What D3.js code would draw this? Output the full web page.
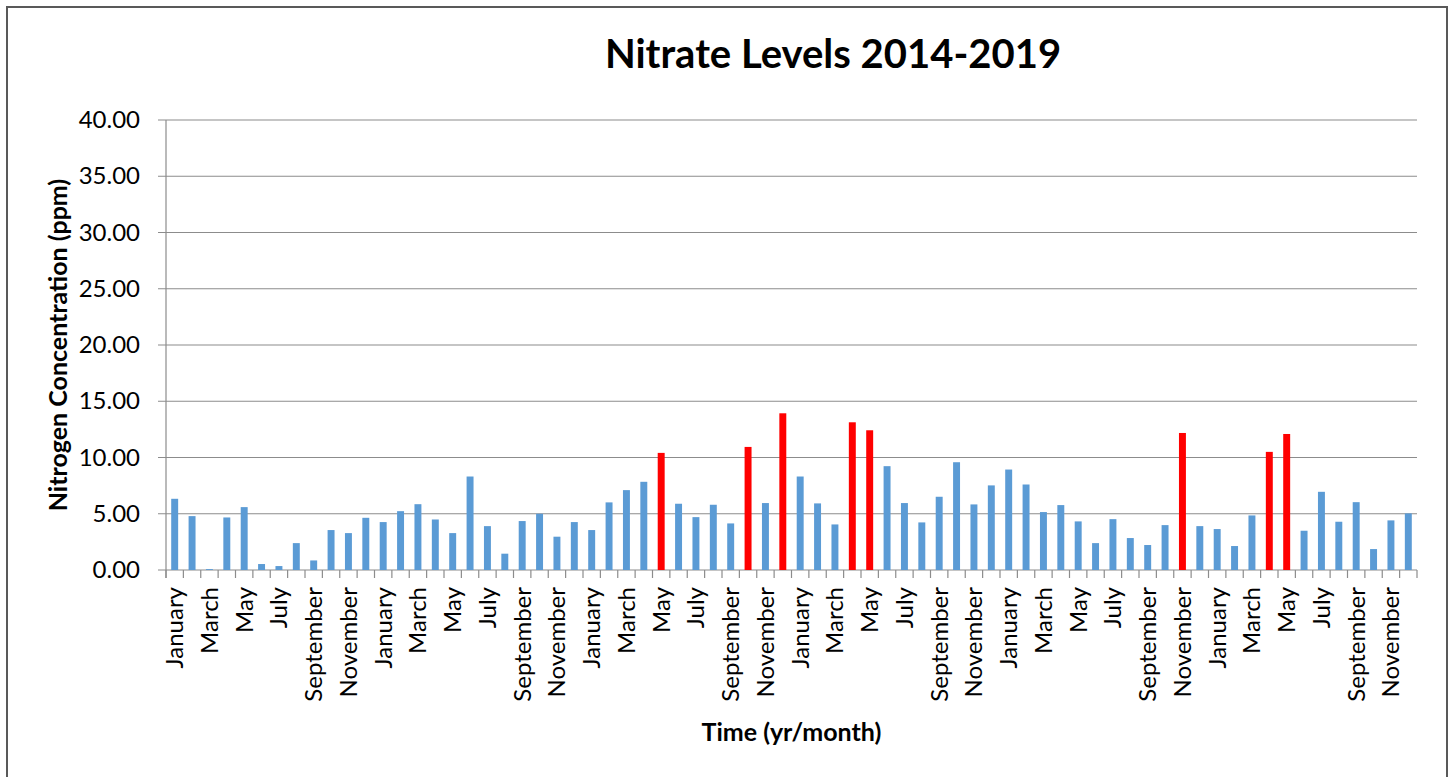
<!DOCTYPE html>
<html>
<head>
<meta charset="utf-8">
<script src="https://cdn.jsdelivr.net/npm/d3@7"></script>
<style>
  body { margin: 0; background: #fff; }
  text { font-family: Lato, "Open Sans", sans-serif; fill: #000; }
</style>
</head>
<body>
<script>
// monthly nitrate readings, Jan 2014 .. Dec 2019
var years = [2014, 2015, 2016, 2017, 2018, 2019];
var monthNames = ["January", "February", "March", "April", "May", "June",
    "July", "August", "September", "October", "November", "December"];
var nitrate = [
    6.33, 4.79, 0.08, 4.67, 5.59, 0.53, 0.35, 2.39, 0.85, 3.55, 3.28, 4.64,
    4.26, 5.23, 5.85, 4.49, 3.28, 8.31, 3.90, 1.45, 4.35, 5.00, 2.96, 4.26,
    3.55, 6.01, 7.10, 7.84, 10.41, 5.89, 4.70, 5.80, 4.14, 10.94, 5.95, 13.93,
    8.31, 5.92, 4.05, 13.13, 12.42, 9.23, 5.95, 4.23, 6.51, 9.58, 5.83, 7.52,
    8.93, 7.60, 5.15, 5.77, 4.32, 2.39, 4.52, 2.84, 2.22, 3.99, 12.18, 3.90,
    3.64, 2.13, 4.85, 10.50, 12.09, 3.49, 6.95, 4.29, 6.03, 1.86, 4.41, 5.03
];
var yTicks = [0, 5, 10, 15, 20, 25, 30, 35, 40];
var limit = 10; // readings above this are flagged red

var data = [];
years.forEach(function(yr, yi) {
    monthNames.forEach(function(m, mi) {
        data.push({key: yr + "-" + (mi + 1), month: m, idx: yi * 12 + mi, value: nitrate[yi * 12 + mi]});
    });
});

var W = 1453, H = 777;
var margin = {top: 120, right: 36, bottom: 207, left: 166};
var width = W - margin.left - margin.right, height = H - margin.top - margin.bottom;

var root = d3.select("body").append("svg").attr("width", W).attr("height", H);

root.append("rect")
    .attr("x", 7).attr("y", 7)
    .attr("width", 1440).attr("height", 790)
    .attr("fill", "none").attr("stroke", "#595959").attr("stroke-width", 2);

var svg = root.append("g").attr("transform", "translate(" + margin.left + "," + margin.top + ")");

var x = d3.scaleBand().domain(data.map(function(d) { return d.key; })).range([0, width]).paddingInner(0.6).paddingOuter(0.3);
var y = d3.scaleLinear().domain([0, 40]).range([height, 0]);

// gridlines
svg.append("g")
    .selectAll("line").data(yTicks).enter().append("line")
    .attr("x1", -8).attr("x2", width)
    .attr("y1", function(d) { return y(d); }).attr("y2", function(d) { return y(d); })
    .attr("stroke", "#8c8c8c").attr("stroke-width", 1.2);

// y axis
var ya = svg.append("g").call(d3.axisLeft(y).tickValues(yTicks).tickSize(0).tickPadding(26).tickFormat(d3.format(".2f")));
ya.select(".domain").remove();
ya.selectAll("text").style("font-size", "24px").style("font-family", "Lato");

svg.append("line").attr("x1", 0).attr("x2", 0).attr("y1", 0).attr("y2", height + 8)
    .attr("stroke", "#8c8c8c").attr("stroke-width", 1.2);

// category boundary ticks
var step = x.step();
svg.append("g").selectAll("line").data(d3.range(data.length + 1)).enter().append("line")
    .attr("x1", function(i) { return i * step; }).attr("x2", function(i) { return i * step; })
    .attr("y1", height).attr("y2", height + 8)
    .attr("stroke", "#8c8c8c").attr("stroke-width", 1.2);

// bars
svg.selectAll("mybar")
    .data(data)
    .enter()
    .append("rect")
    .attr("x", function(d) { return x(d.key); })
    .attr("y", function(d) { return y(d.value); })
    .attr("width", x.bandwidth())
    .attr("height", function(d) { return height - y(d.value); })
    .attr("fill", function(d) { return d.value > limit ? "#ff0000" : "#5b9bd5"; });

// x labels, every second month
var xa = svg.append("g")
    .attr("transform", "translate(0," + height + ")")
    .call(d3.axisBottom(x).tickSize(0).tickFormat(function(k) {
        var d = data.find(function(e) { return e.key == k; });
        return d.idx % 2 == 0 ? d.month : "";
    }));
xa.select(".domain").remove();
xa.selectAll("text")
    .style("font-size", "24px").style("font-family", "Lato")
    .attr("transform", "translate(0,0)rotate(-90)")
    .attr("x", -17).attr("y", 0).attr("dy", "0.35em")
    .style("text-anchor", "end");

// titles
root.append("text")
    .attr("x", 833).attr("y", 68)
    .attr("text-anchor", "middle")
    .style("font-size", "40px").style("font-weight", "bold")
    .text("Nitrate Levels 2014-2019");

root.append("text")
    .attr("x", margin.left + width / 2).attr("y", 741)
    .attr("text-anchor", "middle")
    .style("font-size", "25px").style("font-weight", "bold")
    .text("Time (yr/month)");

root.append("text")
    .attr("transform", "translate(67," + (margin.top + height / 2) + ")rotate(-90)")
    .attr("text-anchor", "middle")
    .style("font-size", "25px").style("font-weight", "bold")
    .text("Nitrogen Concentration (ppm)");
</script>
</body>
</html>
